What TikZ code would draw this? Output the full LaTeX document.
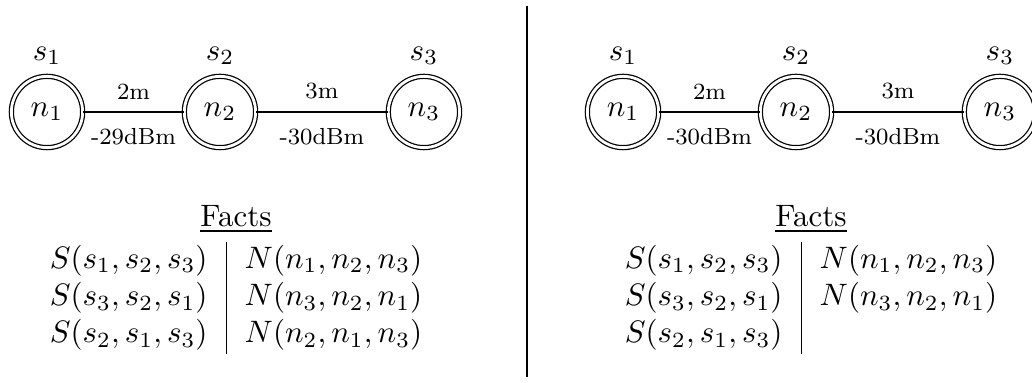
\documentclass[tikz,border=0pt]{standalone}
\usepackage{tikz}
\usetikzlibrary{positioning}

\begin{document}
\begin{tikzpicture}[x=0.3226pt,y=-0.3226pt,station/.style={circle,draw,double,double distance=0.9pt,minimum size=23pt,inner sep=0pt},lbl/.style={font=\fontsize{7.5}{9}\selectfont}]
\useasboundingbox (0,0) rectangle (1032,383);
% left: first measurement
\node[station,label=above:$s_1$] (ln1) at (47,112) {$n_1$};
\node[station,label=above:$s_2$,right=32.4pt of ln1] (ln2) {$n_2$};
\node[station,label=above:$s_3$,right=42.4pt of ln2] (ln3) {$n_3$};
\draw (ln1)--node[above=0.5pt,lbl]{2m} node[below=1.6pt,lbl]{-29dBm}(ln2);
\draw (ln2)--node[above=0.5pt,lbl]{3m} node[below=1.6pt,lbl]{-30dBm}(ln3);
\node (lfacts) at (236,277) {\begin{tabular}{c|c}
\multicolumn{2}{c}{\underline{Facts}}\\[1.5pt]
$S(s_1,s_2,s_3)$ & $N(n_1,n_2,n_3)$\\
$S(s_3,s_2,s_1)$ & $N(n_3,n_2,n_1)$\\
$S(s_2,s_1,s_3)$ & $N(n_2,n_1,n_3)$
\end{tabular}};
% divider
\coordinate (dtop) at (527,6);
\coordinate (dbot) at (527,377);
\draw (dtop)--(dbot);
% right: second measurement
\node[station,label=above:$s_1$] (rn1) at (623,112) {$n_1$};
\node[station,label=above:$s_2$,right=32.4pt of rn1] (rn2) {$n_2$};
\node[station,label=above:$s_3$,right=42.4pt of rn2] (rn3) {$n_3$};
\draw (rn1)--node[above=0.5pt,lbl]{2m} node[below=1.6pt,lbl]{-30dBm}(rn2);
\draw (rn2)--node[above=0.5pt,lbl]{3m} node[below=1.6pt,lbl]{-30dBm}(rn3);
\node (rfacts) at (811,277) {\begin{tabular}{c|c}
\multicolumn{2}{c}{\underline{Facts}}\\[1.5pt]
$S(s_1,s_2,s_3)$ & $N(n_1,n_2,n_3)$\\
$S(s_3,s_2,s_1)$ & $N(n_3,n_2,n_1)$\\
$S(s_2,s_1,s_3)$ &
\end{tabular}};
\end{tikzpicture}
\end{document}
